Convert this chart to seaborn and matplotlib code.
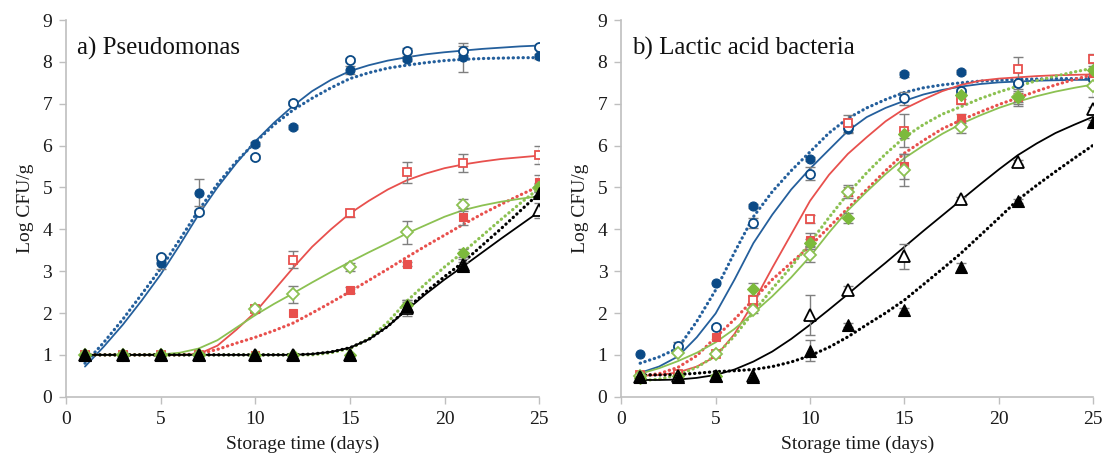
import numpy as np
import matplotlib
matplotlib.use('Agg')
import matplotlib.pyplot as plt
import seaborn as sns

# dias de amostragem e dias para as curvas ajustadas
dias = [1, 3, 5, 7, 10, 12, 15, 18, 21, 25]
dias_fit = list(range(1, 26))

# ---------------- a) Pseudomonas : pontos ----------------
a_azul_aberto = [1.0, 1.0, 3.33, 4.41, 5.73, 7.02, 8.05, 8.27, 8.27, 8.35]
a_azul_cheio = [1.0, 1.0, 3.20, 4.87, 6.03, 6.44, 7.80, 8.08, 8.11, 8.13]
a_verm_aberto = [1.0, 1.0, 1.0, 1.0, 2.10, 3.27, 4.38, 5.36, 5.58, 5.77]
a_verm_cheio = [1.0, 1.0, 1.0, 1.0, 1.0, 2.01, 2.55, 3.18, 4.30, 5.14]
a_verde_aberto = [1.0, 1.0, 1.0, 1.0, 2.09, 2.45, 3.10, 3.93, 4.58, 4.98]
a_verde_cheio = [1.0, 1.0, 1.0, 1.0, 1.0, 1.0, 1.0, 2.20, 3.43, 5.00]
a_preto_aberto = [1.0, 1.0, 1.0, 1.0, 1.0, 1.0, 1.0, 2.12, 3.15, 4.46]
a_preto_cheio = [1.0, 1.0, 1.0, 1.0, 1.0, 1.0, 1.0, 2.17, 3.12, 4.86]

# desvios (a)
a_azul_aberto_err = [0, 0, 0.06, 0.05, 0.05, 0.05, 0.05, 0.05, 0.1, 0.05]
a_azul_cheio_err = [0, 0, 0.15, 0.32, 0.05, 0.05, 0.1, 0.05, 0.35, 0.05]
a_verm_aberto_err = [0, 0, 0, 0, 0.08, 0.2, 0.08, 0.25, 0.22, 0.22]
a_verm_cheio_err = [0, 0, 0, 0, 0, 0, 0.08, 0.05, 0.2, 0.15]
a_verde_aberto_err = [0, 0, 0, 0, 0.06, 0.2, 0.1, 0.27, 0.15, 0.1]
a_verde_cheio_err = [0, 0, 0, 0, 0, 0, 0, 0.1, 0.1, 0.1]
a_preto_aberto_err = [0, 0, 0, 0, 0, 0, 0, 0.2, 0.15, 0.18]
a_preto_cheio_err = [0, 0, 0, 0, 0, 0, 0, 0.1, 0.1, 0.1]

a_fit_azul_aberto = [0.72, 1.2, 1.72, 2.3, 2.92, 3.62, 4.35, 5.0, 5.58, 6.1, 6.55, 6.95, 7.3, 7.57,
                     7.78, 7.92, 8.03, 8.11, 8.18, 8.23, 8.27, 8.31, 8.34, 8.37, 8.39]
a_fit_azul_cheio = [0.8, 1.3, 1.85, 2.45, 3.06, 3.75, 4.45, 5.08, 5.62, 6.08, 6.5, 6.85, 7.13, 7.38,
                    7.6, 7.74, 7.85, 7.92, 7.98, 8.03, 8.06, 8.08, 8.09, 8.1, 8.1]
a_fit_verm_aberto = [1.0, 1.0, 1.0, 1.0, 1.0, 1.0, 1.02, 1.22, 1.6, 2.02, 2.55, 3.08, 3.58, 4.0,
                     4.38, 4.68, 4.95, 5.17, 5.33, 5.46, 5.55, 5.62, 5.68, 5.72, 5.76]
a_fit_verm_cheio = [1.0, 1.0, 1.0, 1.0, 1.0, 1.0, 1.02, 1.13, 1.28, 1.42, 1.58, 1.76, 2.0, 2.25,
                    2.51, 2.78, 3.05, 3.33, 3.6, 3.86, 4.12, 4.37, 4.6, 4.82, 5.03]
a_fit_verde_aberto = [1.0, 1.0, 1.0, 1.0, 1.01, 1.05, 1.15, 1.35, 1.65, 1.95, 2.22, 2.47, 2.73, 2.98,
                      3.22, 3.45, 3.67, 3.9, 4.1, 4.3, 4.46, 4.57, 4.66, 4.73, 4.79]
a_fit_verde_cheio = [1.0, 1.0, 1.0, 1.0, 1.0, 1.0, 1.0, 1.0, 1.0, 1.0, 1.0, 1.0, 1.0, 1.05,
                     1.15, 1.38, 1.78, 2.28, 2.7, 3.1, 3.46, 3.85, 4.24, 4.62, 4.98]
a_fit_preto_aberto = [1.0, 1.0, 1.0, 1.0, 1.0, 1.0, 1.0, 1.0, 1.0, 1.0, 1.0, 1.0, 1.02, 1.07,
                      1.17, 1.37, 1.68, 2.07, 2.45, 2.8, 3.12, 3.45, 3.78, 4.1, 4.42]
a_fit_preto_cheio = [1.0, 1.0, 1.0, 1.0, 1.0, 1.0, 1.0, 1.0, 1.0, 1.0, 1.0, 1.0, 1.02, 1.07,
                     1.17, 1.37, 1.68, 2.1, 2.5, 2.87, 3.22, 3.62, 4.02, 4.44, 4.86]

# ---------------- b) Bacterias lacticas : pontos ----------------
b_azul_aberto = [0.5, 1.22, 1.66, 4.14, 5.33, 6.45, 7.13, 7.3, 7.5, 7.6]
b_azul_cheio = [1.02, 1.18, 2.72, 4.55, 5.68, 6.39, 7.70, 7.75, 7.49, 7.65]
b_verm_aberto = [0.53, 0.55, 1.02, 2.3, 4.24, 6.53, 6.36, 7.09, 7.82, 8.08]
b_verm_cheio = [0.5, 0.55, 1.43, 2.2, 3.75, 4.9, 5.51, 6.65, 7.15, 7.73]
b_verde_aberto = [0.5, 1.04, 1.02, 2.06, 3.38, 4.9, 5.41, 6.45, 7.15, 7.42]
b_verde_cheio = [0.45, 0.5, 0.5, 2.57, 3.67, 4.28, 6.28, 7.21, 7.15, 7.8]
b_preto_aberto = [0.48, 0.5, 0.5, 0.5, 1.95, 2.55, 3.35, 4.72, 5.6, 6.87]
b_preto_cheio = [0.48, 0.48, 0.5, 0.48, 1.10, 1.71, 2.07, 3.09, 4.68, 6.57]

# desvios (b)
b_azul_aberto_err = [0, 0.08, 0.05, 0.12, 0.15, 0.05, 0.15, 0.05, 0.05, 0.05]
b_azul_cheio_err = [0, 0, 0, 0.05, 0.05, 0.1, 0.05, 0.05, 0.05, 0.05]
b_verm_aberto_err = [0, 0, 0, 0.1, 0.1, 0.2, 0.4, 0.1, 0.3, 0.1]
b_verm_cheio_err = [0, 0, 0, 0.08, 0.15, 0.1, 0.3, 0.1, 0.2, 0.1]
b_verde_aberto_err = [0, 0, 0, 0.05, 0.15, 0.15, 0.38, 0.15, 0.15, 0.25]
b_verde_cheio_err = [0, 0, 0, 0.15, 0.1, 0.12, 0.1, 0.1, 0.1, 0.1]
b_preto_aberto_err = [0, 0, 0, 0, 0.48, 0.1, 0.3, 0.05, 0.05, 0.05]
b_preto_cheio_err = [0, 0, 0, 0, 0.25, 0.05, 0.05, 0.1, 0.05, 0.05]

# curvas ajustadas (b)
b_fit_azul_aberto = [0.57, 0.72, 0.96, 1.42, 1.99, 2.8, 3.67, 4.35, 4.95, 5.45, 5.9, 6.35, 6.68, 6.9,
                     7.07, 7.22, 7.33, 7.41, 7.47, 7.51, 7.53, 7.55, 7.56, 7.57, 7.57]
b_fit_azul_cheio = [0.8, 0.95, 1.16, 1.8, 2.55, 3.45, 4.3, 4.9, 5.4, 5.85, 6.3, 6.65, 6.9, 7.1,
                    7.27, 7.38, 7.45, 7.5, 7.54, 7.56, 7.58, 7.59, 7.6, 7.6, 7.6]
b_fit_verm_aberto = [0.5, 0.52, 0.58, 0.72, 0.96, 1.5, 2.25, 3.08, 3.88, 4.68, 5.3, 5.8, 6.2, 6.58,
                     6.88, 7.1, 7.3, 7.45, 7.55, 7.6, 7.63, 7.66, 7.68, 7.69, 7.7]
b_fit_verm_cheio = [0.5, 0.55, 0.7, 0.98, 1.42, 1.85, 2.32, 2.8, 3.2, 3.6, 4.05, 4.5, 4.95, 5.4,
                    5.82, 6.12, 6.4, 6.61, 6.8, 6.98, 7.14, 7.3, 7.45, 7.58, 7.7]
b_fit_verde_aberto = [0.55, 0.68, 0.85, 1.05, 1.3, 1.62, 2.0, 2.4, 2.85, 3.35, 3.92, 4.45, 4.9, 5.32,
                      5.7, 6.0, 6.28, 6.52, 6.72, 6.9, 7.05, 7.18, 7.29, 7.38, 7.46]
b_fit_verde_cheio = [0.38, 0.42, 0.52, 0.7, 0.98, 1.45, 2.02, 2.58, 3.1, 3.68, 4.28, 4.85, 5.35, 5.8,
                     6.2, 6.5, 6.75, 6.93, 7.12, 7.28, 7.42, 7.55, 7.66, 7.76, 7.85]
b_fit_preto_aberto = [0.4, 0.4, 0.41, 0.45, 0.52, 0.65, 0.84, 1.08, 1.38, 1.72, 2.08, 2.45, 2.83, 3.2,
                      3.58, 3.96, 4.33, 4.7, 5.07, 5.43, 5.77, 6.05, 6.3, 6.5, 6.69]
b_fit_preto_cheio = [0.52, 0.52, 0.53, 0.56, 0.6, 0.62, 0.65, 0.72, 0.83, 0.98, 1.18, 1.43, 1.72, 2.0,
                     2.31, 2.68, 3.05, 3.43, 3.85, 4.27, 4.7, 5.05, 5.38, 5.7, 6.01]

# cores
AZUL_LINHA = '#245f9c'
AZUL = '#0b4a86'
VERM = '#e8504d'
VERDE = '#8cc152'
VERDE_CHEIO = '#7cba3c'
PRETO = '#000000'
CINZA = '#bfbfbf'

sns.set_theme(style='ticks')
plt.rcParams['font.family'] = ['Liberation Serif', 'DejaVu Serif']

fig = plt.figure(figsize=(11.08, 4.72), dpi=100)
ax_a = fig.add_axes([0.0596, 0.1595, 0.427, 0.7981])
ax_b = fig.add_axes([0.5607, 0.1595, 0.426, 0.7981])

# (pontos, erro, curva, cor linha, cor marcador, marcador, tamanho, aberto?)
# ordem: cheio antes do aberto de cada cor (o aberto fica por cima, como no original)
series_a = [
    (a_azul_cheio, a_azul_cheio_err, a_fit_azul_cheio, AZUL_LINHA, AZUL, 'o', 6.5, False),
    (a_azul_aberto, a_azul_aberto_err, a_fit_azul_aberto, AZUL_LINHA, AZUL, 'o', 6.5, True),
    (a_verm_cheio, a_verm_cheio_err, a_fit_verm_cheio, VERM, VERM, 's', 6.3, False),
    (a_verm_aberto, a_verm_aberto_err, a_fit_verm_aberto, VERM, VERM, 's', 6.3, True),
    (a_verde_aberto, a_verde_aberto_err, a_fit_verde_aberto, VERDE, VERDE, 'D', 5.8, True),
    (a_verde_cheio, a_verde_cheio_err, a_fit_verde_cheio, VERDE, VERDE_CHEIO, 'D', 5.8, False),
    (a_preto_aberto, a_preto_aberto_err, a_fit_preto_aberto, PRETO, PRETO, '^', 8.0, True),
    (a_preto_cheio, a_preto_cheio_err, a_fit_preto_cheio, PRETO, PRETO, '^', 8.0, False),
]
series_b = [
    (b_azul_cheio, b_azul_cheio_err, b_fit_azul_cheio, AZUL_LINHA, AZUL, 'o', 6.5, False),
    (b_azul_aberto, b_azul_aberto_err, b_fit_azul_aberto, AZUL_LINHA, AZUL, 'o', 6.5, True),
    (b_verm_cheio, b_verm_cheio_err, b_fit_verm_cheio, VERM, VERM, 's', 6.3, False),
    (b_verm_aberto, b_verm_aberto_err, b_fit_verm_aberto, VERM, VERM, 's', 6.3, True),
    (b_verde_aberto, b_verde_aberto_err, b_fit_verde_aberto, VERDE, VERDE, 'D', 5.8, True),
    (b_verde_cheio, b_verde_cheio_err, b_fit_verde_cheio, VERDE, VERDE_CHEIO, 'D', 5.8, False),
    (b_preto_aberto, b_preto_aberto_err, b_fit_preto_aberto, PRETO, PRETO, '^', 8.0, True),
    (b_preto_cheio, b_preto_cheio_err, b_fit_preto_cheio, PRETO, PRETO, '^', 8.0, False),
]


def desenhar(ax, series, titulo):
    # curvas primeiro
    for pts, err, fit, cl, cm, mk, ms, aberto in series:
        if aberto:
            sns.lineplot(x=dias_fit, y=fit, ax=ax, color=cl, linewidth=1.3, zorder=2)
        else:
            sns.lineplot(x=dias_fit, y=fit, ax=ax, color=cl, linewidth=2.3, zorder=2,
                         linestyle=(0, (0.1, 1.45)), dash_capstyle='round')
    # barras de erro
    for pts, err, fit, cl, cm, mk, ms, aberto in series:
        d = np.array(dias)
        p = np.array(pts)
        e = np.array(err)
        m = e > 0
        ax.errorbar(d[m], p[m], yerr=e[m], fmt='none', ecolor='#7f7f7f',
                    elinewidth=1.0, capsize=3.5, capthick=1.0, zorder=3)
    # pontos, na ordem das series
    for i, (pts, err, fit, cl, cm, mk, ms, aberto) in enumerate(series):
        if aberto:
            ax.plot(dias, pts, mk, ms=ms, mfc='white', mec=cm, mew=1.3, zorder=4 + i * 0.1)
        else:
            ax.plot(dias, pts, mk, ms=ms, mfc=cm, mec=cm, mew=0.8, zorder=4 + i * 0.1)

    ax.set_xlim(0, 25)
    ax.set_ylim(0, 9)
    ax.set_xticks([0, 5, 10, 15, 20, 25])
    ax.set_yticks(range(0, 10))
    ax.set_xlabel('Storage time (days)', fontsize=14, color='#1a1a1a', labelpad=6)
    ax.set_ylabel('Log CFU/g', fontsize=14, color='#1a1a1a', labelpad=6)
    ax.tick_params(axis='both', labelsize=14, colors=CINZA, labelcolor='#1a1a1a',
                   length=5, width=1, direction='out', pad=5)
    sns.despine(ax=ax)
    for lado in ['left', 'bottom']:
        ax.spines[lado].set_color(CINZA)
        ax.spines[lado].set_linewidth(1.2)
    ax.text(0.023, 0.925, titulo, transform=ax.transAxes, fontsize=18, color='#111111',
            va='center', ha='left')


desenhar(ax_a, series_a, 'a) Pseudomonas')
desenhar(ax_b, series_b, 'b) Lactic acid bacteria')

fig.savefig('out.png', dpi=100)
